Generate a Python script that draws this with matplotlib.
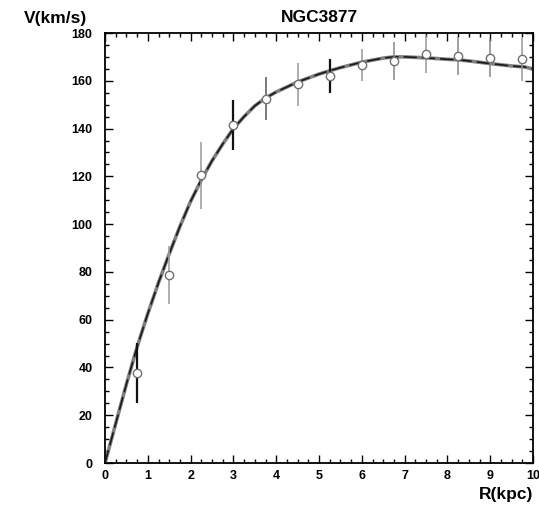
import matplotlib
matplotlib.use("Agg")
import matplotlib.pyplot as plt
from matplotlib.ticker import MultipleLocator

plt.rcParams['font.family'] = ['Liberation Sans', 'DejaVu Sans']
plt.rcParams['font.weight'] = 'bold'

# Observed rotation curve
r_obs = [0.75, 1.5, 2.25, 3.0, 3.75, 4.5, 5.25, 6.0, 6.75, 7.5, 8.25, 9.0, 9.75]
v_obs = [37.7, 78.7, 120.5, 141.5, 152.5, 158.6, 162.0, 166.6, 168.3, 171.2, 170.4, 169.5, 169.0]
v_err = [12.5, 12.0, 14.0, 10.5, 9.0, 9.0, 7.0, 6.5, 8.0, 8.0, 8.0, 8.0, 9.0]
bar_colors = ['#111111', '#999999', '#999999', '#111111', '#555555', '#999999',
              '#111111', '#999999', '#888888', '#999999', '#888888', '#888888', '#999999']

# Model curve
r_fit = [0.0, 0.25, 0.5, 0.75, 1.0, 1.25, 1.5, 1.75, 2.0, 2.25, 2.5, 2.75, 3.0, 3.25, 3.5,
         3.75, 4.0, 4.5, 5.0, 5.25, 5.5, 6.0, 6.5, 6.75, 7.0, 7.5, 8.0, 8.3, 8.5, 9.0, 9.5, 9.8, 10.0]
v_fit = [0.0, 16.5, 33.0, 48.6, 62.5, 75.5, 87.5, 99.0, 109.5, 118.5, 126.5, 133.5, 140.0, 145.0, 149.5,
         152.8, 155.3, 159.5, 162.8, 164.2, 165.5, 167.8, 169.5, 170.0, 170.0, 169.6, 169.0, 168.7, 168.3, 167.2, 166.2, 165.8, 165.0]

fig = plt.figure(figsize=(5.39, 5.08), dpi=100)
ax = fig.add_axes([105/539, 1 - 463/508, (533 - 105)/539, (463 - 33)/508])

ax.plot(r_fit, v_fit, color='#808080', lw=2.6, zorder=2, solid_capstyle='butt')
ax.plot(r_fit, v_fit, color='#1a1a1a', lw=1.2, zorder=3, dashes=(8, 3))

for x, y, e, c in zip(r_obs, v_obs, v_err, bar_colors):
    lw = 1.6 if c == '#111111' else 1.1
    ax.errorbar([x], [y], yerr=[e], fmt='none', ecolor=c, elinewidth=lw, capsize=0, zorder=4)
ax.plot(r_obs, v_obs, 'o', ms=6, mfc='white', mec='#707070', mew=1.0, zorder=5, ls='none')

ax.set_xlim(0, 10)
ax.set_ylim(0, 180)
ax.xaxis.set_major_locator(MultipleLocator(1))
ax.xaxis.set_minor_locator(MultipleLocator(0.25))
ax.yaxis.set_major_locator(MultipleLocator(20))
ax.yaxis.set_minor_locator(MultipleLocator(5))
ax.tick_params(which='both', direction='in', top=True, right=True, width=1.0, colors='black')
ax.tick_params(which='major', length=6)
ax.tick_params(which='minor', length=3)
ax.tick_params(axis='y', which='major', pad=9, labelsize=9)
ax.tick_params(axis='x', which='major', pad=5, labelsize=9)
for lbl in ax.get_xticklabels() + ax.get_yticklabels():
    lbl.set_fontweight('bold')
for s in ax.spines.values():
    s.set_linewidth(1.3)

fig.text(55/539, 1 - 19/508, 'V(km/s)', ha='center', va='center', fontsize=12.5, fontweight='bold')
fig.text(319/539, 1 - 17/508, 'NGC3877', ha='center', va='center', fontsize=12.5, fontweight='bold')
fig.text(533/539, 1 - 494/508, 'R(kpc)', ha='right', va='center', fontsize=12.5, fontweight='bold')

fig.savefig('out.png', dpi=100)
